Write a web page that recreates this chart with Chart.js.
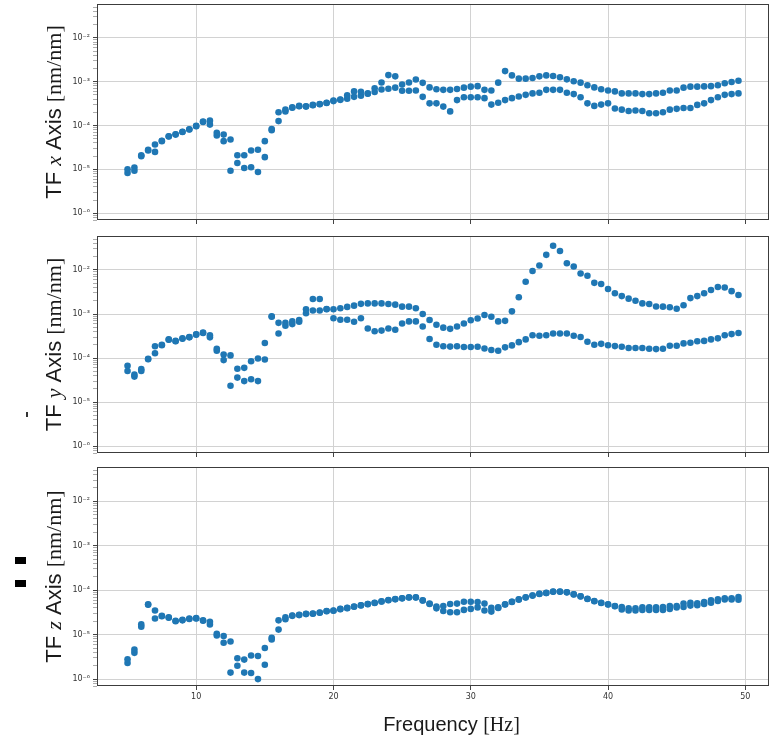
<!DOCTYPE html>
<html>
<head>
<meta charset="utf-8">
<script src="https://cdn.jsdelivr.net/npm/chart.js@4.4.1/dist/chart.umd.min.js"></script>
<style>
html,body{margin:0;padding:0;background:#fff;}
#wrap{position:relative;width:773px;height:739px;overflow:hidden;background:#fff;}
.pane{position:absolute;left:0;width:773px;}
.mark{position:absolute;}
</style>
</head>
<body>
<div id="wrap">
  <div class="pane" style="top:0px;height:230px"><canvas id="c1"></canvas></div>
  <div class="pane" style="top:232px;height:231px"><canvas id="c2"></canvas></div>
  <div class="pane" style="top:463px;height:276px"><canvas id="c3"></canvas></div>
  <div class="mark" style="left:26px;top:412px;width:2px;height:5px;background:#333"></div>
  <div class="mark" style="left:15px;top:557px;width:11px;height:7px;background:#000"></div>
  <div class="mark" style="left:15px;top:580px;width:11px;height:7px;background:#000"></div>
</div>
<script>
// ---------------- data ----------------
const freqHz = [5,5.5,6,6.5,7,7.5,8,8.5,9,9.5,10,10.5,11,11.5,12,12.5,13,13.5,14,14.5,
  15,15.5,16,16.5,17,17.5,18,18.5,19,19.5,20,20.5,21,21.5,22,22.5,23,23.5,24,24.5,
  25,25.5,26,26.5,27,27.5,28,28.5,29,29.5,30,30.5,31,31.5,32,32.5,33,33.5,34,34.5,
  35,35.5,36,36.5,37,37.5,38,38.5,39,39.5,40,40.5,41,41.5,42,42.5,43,43.5,44,44.5,
  45,45.5,46,46.5,47,47.5,48,48.5,49,49.5];

const tfXRunA = [1.0e-5,1.1e-5,2.1e-5,2.8e-5,3.7e-5,4.5e-5,5.7e-5,6.3e-5,7.2e-5,8.2e-5,
  9.8e-5,1.23e-4,1.29e-4,6.8e-5,6.2e-5,4.8e-5,2.1e-5,2.1e-5,2.7e-5,2.8e-5,
  4.4e-5,8.3e-5,2.0e-4,2.3e-4,2.6e-4,2.8e-4,2.75e-4,2.95e-4,3.1e-4,3.3e-4,
  3.7e-4,3.9e-4,4.9e-4,6.0e-4,5.9e-4,5.4e-4,7.1e-4,9.6e-4,1.41e-3,1.32e-3,
  8.6e-4,9.6e-4,1.12e-3,9.4e-4,7.4e-4,6.7e-4,6.5e-4,6.5e-4,6.8e-4,7.3e-4,
  7.7e-4,7.9e-4,6.5e-4,6.3e-4,9.5e-4,1.74e-3,1.39e-3,1.17e-3,1.17e-3,1.21e-3,
  1.32e-3,1.39e-3,1.35e-3,1.26e-3,1.13e-3,1.02e-3,9.5e-4,8.3e-4,7.4e-4,6.7e-4,
  6.3e-4,6.0e-4,5.4e-4,5.4e-4,5.4e-4,5.2e-4,5.2e-4,5.4e-4,5.6e-4,6.3e-4,
  6.3e-4,7.3e-4,7.7e-4,7.7e-4,7.8e-4,7.9e-4,8.3e-4,9.2e-4,9.8e-4,1.05e-3];
const tfXRunB = [8.3e-6,9.3e-6,2.0e-5,2.7e-5,2.5e-5,4.4e-5,5.6e-5,6.2e-5,7.1e-5,8.1e-5,
  9.6e-5,1.2e-4,1.05e-4,5.9e-5,4.4e-5,9.3e-6,1.4e-5,1.07e-5,1.12e-5,8.7e-6,
  1.9e-5,7.8e-5,1.26e-4,2.1e-4,2.55e-4,2.75e-4,2.7e-4,2.9e-4,3.05e-4,3.25e-4,
  3.6e-4,3.85e-4,4.1e-4,4.5e-4,4.8e-4,5.3e-4,5.8e-4,6.6e-4,6.9e-4,7.3e-4,
  6.2e-4,6.2e-4,6.3e-4,4.5e-4,3.2e-4,3.2e-4,2.7e-4,2.1e-4,3.8e-4,4.4e-4,
  4.4e-4,4.4e-4,4.2e-4,3.0e-4,3.3e-4,3.8e-4,4.2e-4,4.6e-4,5.0e-4,5.4e-4,
  5.6e-4,6.5e-4,6.5e-4,6.5e-4,5.6e-4,5.2e-4,4.4e-4,3.2e-4,2.8e-4,3.0e-4,
  3.2e-4,2.45e-4,2.3e-4,2.15e-4,2.2e-4,2.15e-4,1.9e-4,1.9e-4,2.0e-4,2.3e-4,
  2.4e-4,2.5e-4,2.5e-4,2.95e-4,3.2e-4,3.8e-4,4.4e-4,5.0e-4,5.2e-4,5.4e-4];

const tfYRunA = [6.7e-5,4.2e-5,5.6e-5,9.6e-5,1.86e-4,2.0e-4,2.65e-4,2.45e-4,2.8e-4,3.0e-4,
  3.45e-4,3.8e-4,3.3e-4,1.63e-4,1.2e-4,1.15e-4,5.7e-5,6.0e-5,8.5e-5,9.8e-5,
  2.2e-4,8.9e-4,6.3e-4,6.3e-4,6.8e-4,7.3e-4,1.28e-3,2.2e-3,2.2e-3,1.3e-3,
  1.28e-3,1.35e-3,1.45e-3,1.55e-3,1.7e-3,1.74e-3,1.74e-3,1.74e-3,1.69e-3,1.63e-3,
  1.47e-3,1.47e-3,1.35e-3,1.0e-3,7.3e-4,5.7e-4,4.9e-4,4.6e-4,5.2e-4,6.1e-4,
  7.2e-4,7.9e-4,9.5e-4,8.7e-4,6.8e-4,7.0e-4,1.15e-3,2.4e-3,5.4e-3,9.5e-3,
  1.26e-2,2.2e-2,3.55e-2,2.7e-2,1.42e-2,1.2e-2,8.3e-3,7.4e-3,5.1e-3,4.8e-3,
  3.7e-3,2.95e-3,2.55e-3,2.23e-3,2.0e-3,1.74e-3,1.69e-3,1.48e-3,1.47e-3,1.42e-3,
  1.32e-3,1.58e-3,2.3e-3,2.55e-3,2.95e-3,3.5e-3,4.1e-3,4.0e-3,3.3e-3,2.7e-3];
const tfYRunB = [5.1e-5,3.8e-5,5.1e-5,9.4e-5,1.29e-4,1.95e-4,2.6e-4,2.4e-4,2.75e-4,2.95e-4,
  3.4e-4,3.7e-4,2.95e-4,1.47e-4,9.0e-5,2.35e-5,3.6e-5,3.0e-5,3.3e-5,3.0e-5,
  9.3e-5,8.7e-4,3.6e-4,5.4e-4,5.9e-4,6.7e-4,1.04e-3,1.2e-3,1.2e-3,1.28e-3,
  8.0e-4,7.4e-4,7.4e-4,6.7e-4,8.0e-4,4.7e-4,4.05e-4,4.2e-4,4.7e-4,4.4e-4,
  6.1e-4,6.8e-4,6.8e-4,5.2e-4,2.7e-4,2.0e-4,1.86e-4,1.82e-4,1.86e-4,1.78e-4,
  1.78e-4,1.8e-4,1.65e-4,1.52e-4,1.47e-4,1.75e-4,1.94e-4,2.3e-4,2.65e-4,3.3e-4,
  3.2e-4,3.3e-4,3.6e-4,3.6e-4,3.6e-4,3.2e-4,3.0e-4,2.35e-4,2.0e-4,2.1e-4,
  1.95e-4,1.87e-4,1.8e-4,1.69e-4,1.69e-4,1.69e-4,1.63e-4,1.6e-4,1.63e-4,1.9e-4,
  1.9e-4,2.15e-4,2.23e-4,2.4e-4,2.45e-4,2.65e-4,2.8e-4,3.3e-4,3.5e-4,3.7e-4];

const tfZRunA = [2.8e-6,4.6e-6,1.7e-5,4.8e-5,3.5e-5,2.65e-5,2.45e-5,2.05e-5,2.15e-5,2.3e-5,
  2.35e-5,2.1e-5,1.94e-5,1.05e-5,9.3e-6,7.0e-6,2.95e-6,2.75e-6,3.4e-6,3.3e-6,
  5.0e-6,8.5e-6,2.1e-5,2.47e-5,2.7e-5,2.8e-5,2.95e-5,3.0e-5,3.15e-5,3.4e-5,
  3.5e-5,3.8e-5,4.0e-5,4.3e-5,4.6e-5,4.9e-5,5.2e-5,5.6e-5,6.0e-5,6.3e-5,
  6.6e-5,6.9e-5,6.9e-5,5.9e-5,5.0e-5,4.3e-5,4.4e-5,4.9e-5,5.0e-5,5.5e-5,
  5.5e-5,5.4e-5,5.0e-5,4.0e-5,4.1e-5,4.8e-5,5.5e-5,6.2e-5,6.9e-5,7.6e-5,
  8.3e-5,8.7e-5,9.3e-5,9.3e-5,9.0e-5,8.1e-5,7.3e-5,6.4e-5,5.7e-5,5.2e-5,
  4.8e-5,4.4e-5,4.2e-5,3.9e-5,3.9e-5,4.1e-5,4.1e-5,4.1e-5,4.2e-5,4.4e-5,
  4.4e-5,5.0e-5,5.2e-5,5.1e-5,5.4e-5,5.9e-5,6.2e-5,6.6e-5,6.6e-5,7.0e-5];
const tfZRunB = [2.3e-6,3.9e-6,1.5e-5,4.7e-5,2.3e-5,2.6e-5,2.4e-5,2.0e-5,2.1e-5,2.25e-5,
  2.3e-5,2.05e-5,1.7e-5,9.6e-6,6.6e-6,1.4e-6,2.0e-6,1.4e-6,1.37e-6,1.0e-6,
  2.1e-6,7.8e-6,1.3e-5,2.22e-5,2.65e-5,2.75e-5,2.9e-5,2.95e-5,3.1e-5,3.35e-5,
  3.45e-5,3.75e-5,3.95e-5,4.25e-5,4.55e-5,4.85e-5,5.15e-5,5.55e-5,5.95e-5,6.25e-5,
  6.55e-5,6.85e-5,6.85e-5,5.85e-5,4.9e-5,3.9e-5,3.4e-5,3.2e-5,3.2e-5,3.6e-5,
  3.8e-5,4.1e-5,3.5e-5,3.3e-5,4.0e-5,4.75e-5,5.45e-5,6.15e-5,6.85e-5,7.55e-5,
  8.25e-5,8.65e-5,9.25e-5,9.25e-5,8.95e-5,8.05e-5,7.25e-5,6.35e-5,5.65e-5,5.15e-5,
  4.75e-5,4.35e-5,3.7e-5,3.5e-5,3.5e-5,3.6e-5,3.6e-5,3.6e-5,3.6e-5,3.8e-5,
  4.1e-5,4.2e-5,4.5e-5,4.6e-5,4.9e-5,5.2e-5,5.7e-5,6.2e-5,6.2e-5,6.1e-5];

const xTickValues = [10, 20, 30, 40, 50];
const yTickValues = [1e-6, 1e-5, 1e-4, 1e-3, 1e-2];
const yTickLabels = ['10\u207B\u2076', '10\u207B\u2075', '10\u207B\u2074', '10\u207B\u00B3', '10\u207B\u00B2'];
const axisNames = ['x', 'y', 'z'];
const xLabel = 'Frequency ';
const xLabelUnit = '[Hz]';

// ---------------- style / layout ----------------
const X_MIN = 2.775, X_MAX = 51.725;
const Y_MIN = 7.0e-7, Y_MAX = 5.9e-2;
const DOT = '#1f77b4';

// minor tick positions (2..9 x decade) inside the range
const yMinorTicks = [];
[1e-7, 1e-6, 1e-5, 1e-4, 1e-3, 1e-2].forEach(d => {
  for (let k = 2; k <= 9; k++) {
    const v = d * k;
    if (v >= Y_MIN && v <= Y_MAX) yMinorTicks.push(v);
  }
});
function isDecade(v) {
  const l = Math.log10(v);
  return Math.abs(l - Math.round(l)) < 1e-6;
}
function pts(arr) { return freqHz.map((f, i) => ({x: f, y: arr[i]})); }

function drawSegments(ctx, segs, cx, cy, rotate) {
  ctx.save();
  ctx.translate(cx, cy);
  if (rotate) ctx.rotate(-Math.PI / 2);
  let total = 0;
  segs.forEach(s => { ctx.font = s.font; s.w = ctx.measureText(s.text).width; total += s.w; });
  let x = -total / 2;
  ctx.textBaseline = 'alphabetic';
  ctx.textAlign = 'left';
  ctx.fillStyle = '#1a1a1a';
  segs.forEach(s => { ctx.font = s.font; ctx.fillText(s.text, x, 0); x += s.w; });
  ctx.restore();
}

const YL = 22;
function makePanel(id, runA, runB, name, showX, xAxisH, drawXTitle) {
  const framePlugin = {
    id: 'frame' + id,
    afterDatasetsDraw(chart) {
      const {ctx, chartArea: a} = chart;
      ctx.save();
      ctx.strokeStyle = '#3c3c3c';
      ctx.lineWidth = 1;
      ctx.strokeRect(Math.round(a.left) + 0.5, Math.round(a.top) + 0.5,
        Math.round(a.right - a.left) - 1, Math.round(a.bottom - a.top) - 1);
      ctx.restore();
    },
    afterDraw(chart) {
      const {ctx, chartArea: a} = chart;
      const cy = (a.top + a.bottom) / 2;
      drawSegments(ctx, [
        {text: 'TF ', font: YL + 'px "Liberation Sans"'},
        {text: name, font: 'italic ' + YL + 'px "Liberation Serif"'},
        {text: ' Axis ', font: YL + 'px "Liberation Sans"'},
        {text: '[nm/nm]', font: YL + 'px "Liberation Serif"'}
      ], 60.5, cy, true);
      if (drawXTitle) {
        drawSegments(ctx, [
          {text: xLabel, font: '20px "Liberation Sans"'},
          {text: xLabelUnit, font: '20px "Liberation Serif"'}
        ], 451.5, a.bottom + 45, false);
      }
    }
  };
  return new Chart(document.getElementById(id), {
    type: 'scatter',
    data: {
      datasets: [
        {data: pts(runA), backgroundColor: DOT, borderColor: DOT, borderWidth: 0, pointRadius: 3.3},
        {data: pts(runB), backgroundColor: DOT, borderColor: DOT, borderWidth: 0, pointRadius: 3.3}
      ]
    },
    options: {
      responsive: true,
      maintainAspectRatio: false,
      animation: false,
      events: [],
      layout: {padding: {top: 3, right: 1, left: 0, bottom: 0}},
      plugins: {legend: {display: false}, tooltip: {enabled: false}},
      scales: {
        x: {
          type: 'linear', min: X_MIN, max: X_MAX,
          border: {display: false},
          afterBuildTicks: s => { s.ticks = xTickValues.map(v => ({value: v})); },
          afterFit: s => { s.height = xAxisH; s.paddingLeft = 0; s.paddingRight = 0; },
          grid: {color: '#d2d2d2', lineWidth: 1, drawTicks: true, tickLength: 4, tickColor: '#444', tickWidth: 1},
          ticks: {
            autoSkip: false, maxRotation: 0, padding: 2, color: '#333',
            font: {family: '"DejaVu Sans"', size: 8},
            callback: v => showX ? String(v) : ''
          }
        },
        y: {
          type: 'logarithmic', min: Y_MIN, max: Y_MAX,
          border: {display: false},
          afterBuildTicks: s => {
            s.ticks = yTickValues.concat(yMinorTicks).sort((a, b) => a - b).map(v => ({value: v}));
          },
          afterFit: s => { s.width = 97; s.paddingTop = 0; s.paddingBottom = 0; },
          grid: {
            color: c => (c.tick && isDecade(c.tick.value)) ? '#d2d2d2' : 'rgba(0,0,0,0)',
            lineWidth: 1, drawTicks: true, tickLength: 4,
            tickColor: c => (c.tick && isDecade(c.tick.value)) ? '#444' : '#777',
            tickWidth: c => (c.tick && isDecade(c.tick.value)) ? 1 : 0.6
          },
          ticks: {
            autoSkip: false, padding: 3, color: '#333',
            font: {family: '"DejaVu Sans"', size: 8},
            callback: v => {
              const i = yTickValues.findIndex(t => Math.abs(t - v) / t < 1e-6);
              return i >= 0 ? yTickLabels[i] : '';
            }
          }
        }
      }
    },
    plugins: [framePlugin]
  });
}

makePanel('c1', tfXRunA, tfXRunB, axisNames[0], false, 10, false);
makePanel('c2', tfYRunA, tfYRunB, axisNames[1], false, 10, false);
makePanel('c3', tfZRunA, tfZRunB, axisNames[2], true, 53, true);
</script>
</body>
</html>
